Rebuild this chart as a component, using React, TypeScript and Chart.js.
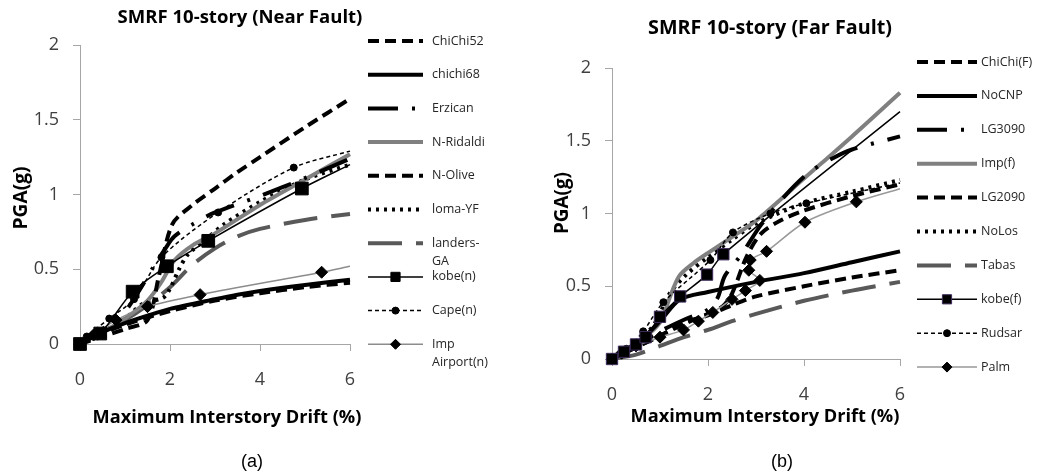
import React, { useEffect, useRef } from 'react';
import { Chart, registerables } from 'chart.js';

Chart.register(...registerables);

type Pt = [number, number];

// ---------- (a) Near Fault ----------
const chiChi52: Pt[] = [[0, 0], [0.5, 0.05], [1.0, 0.1], [1.5, 0.16], [1.75, 0.45], [2.05, 0.8], [2.5, 0.93], [3, 1.04], [3.5, 1.15], [4, 1.25], [5, 1.45], [6, 1.64]];
const chichi68: Pt[] = [[0, 0], [0.5, 0.08], [1, 0.14], [1.5, 0.19], [2, 0.235], [3, 0.3], [3.5, 0.33], [4, 0.355], [5, 0.395], [6, 0.43]];
const erzican: Pt[] = [[0, 0], [0.5, 0.1], [1, 0.22], [1.3, 0.35], [1.6, 0.5], [1.9, 0.64], [2.1, 0.72], [2.5, 0.8], [3, 0.88], [4, 0.99], [5, 1.11], [6, 1.24]];
const nRidaldi: Pt[] = [[0, 0], [0.5, 0.08], [1, 0.17], [1.5, 0.29], [1.8, 0.41], [2.1, 0.56], [2.5, 0.66], [3, 0.74], [4, 0.93], [5, 1.1], [6, 1.27]];
const nOlive: Pt[] = [[0, 0], [0.5, 0.07], [1, 0.13], [2, 0.22], [3, 0.29], [4, 0.34], [5, 0.38], [6, 0.41]];
const lomaYF: Pt[] = [[0, 0], [0.5, 0.08], [1, 0.17], [1.4, 0.27], [1.85, 0.31], [2.0, 0.37], [2.2, 0.5], [2.4, 0.6], [2.8, 0.7], [3.2, 0.8], [4, 0.95], [5, 1.1], [6, 1.2]];
const landersGA: Pt[] = [[0, 0], [0.5, 0.08], [1, 0.16], [1.5, 0.26], [2, 0.38], [2.5, 0.53], [3, 0.64], [3.5, 0.72], [4, 0.77], [5, 0.83], [6, 0.87]];
const kobeN: Pt[] = [[0, 0], [0.45, 0.07], [1.17, 0.35], [1.93, 0.52], [2.85, 0.69], [4.93, 1.04], [6, 1.2]];
const capeN: Pt[] = [[0, 0], [0.15, 0.05], [0.65, 0.17], [1.2, 0.3], [1.81, 0.58], [3.07, 0.88], [4.75, 1.18], [6, 1.29]];
const impAirportN: Pt[] = [[0, 0], [0.3, 0.06], [0.8, 0.16], [1.5, 0.25], [2.67, 0.33], [5.37, 0.48], [6, 0.52]];

const nearLabels = ['ChiChi52', 'chichi68', 'Erzican', 'N-Ridaldi', 'N-Olive', 'loma-YF', 'landers-GA', 'kobe(n)', 'Cape(n)', 'Imp Airport(n)'];
const nearSeries = [chiChi52, chichi68, erzican, nRidaldi, nOlive, lomaYF, landersGA, kobeN, capeN, impAirportN];

// ---------- (b) Far Fault ----------
const chiChiF: Pt[] = [[0, 0], [0.5, 0.08], [1, 0.16], [1.5, 0.25], [2, 0.3], [2.5, 0.37], [3, 0.43], [4, 0.5], [5, 0.56], [6, 0.61]];
const noCNP: Pt[] = [[0, 0], [0.5, 0.1], [1, 0.26], [1.42, 0.41], [2, 0.46], [3, 0.53], [4, 0.59], [5, 0.665], [6, 0.74]];
const lg3090: Pt[] = [[0, 0], [0.5, 0.09], [1, 0.19], [1.5, 0.27], [2, 0.34], [2.2, 0.42], [2.35, 0.57], [2.7, 0.72], [3.1, 0.92], [3.6, 1.12], [4.1, 1.28], [4.6, 1.38], [5, 1.44], [6, 1.53]];
const impF: Pt[] = [[0, 0], [0.5, 0.1], [1.0, 0.25], [1.2, 0.42], [1.4, 0.57], [1.7, 0.66], [2.05, 0.74], [2.6, 0.86], [3, 0.95], [4, 1.24], [5, 1.53], [6, 1.83]];
const lg2090: Pt[] = [[0, 0], [0.5, 0.08], [1, 0.16], [1.5, 0.24], [2, 0.31], [2.3, 0.36], [2.5, 0.45], [2.8, 0.7], [3.1, 0.86], [3.5, 0.95], [4, 1.02], [5, 1.12], [6, 1.2]];
const noLos: Pt[] = [[0, 0], [0.5, 0.1], [0.9, 0.25], [1.2, 0.45], [1.55, 0.58], [2, 0.7], [2.5, 0.82], [3, 0.93], [4, 1.07], [5, 1.15], [6, 1.23]];
const tabas: Pt[] = [[0, 0], [0.5, 0.03], [1, 0.09], [1.5, 0.15], [2, 0.2], [2.5, 0.26], [3, 0.31], [4, 0.4], [5, 0.47], [6, 0.53]];
const kobeF: Pt[] = [[0, 0], [0.25, 0.05], [0.5, 0.1], [0.7, 0.15], [1.0, 0.29], [1.42, 0.43], [1.98, 0.58], [2.32, 0.72], [6, 1.7]];
const rudsar: Pt[] = [[0, 0], [0.3, 0.07], [0.65, 0.19], [1.07, 0.39], [2.05, 0.68], [2.52, 0.87], [3.3, 1.0], [4.05, 1.07], [6, 1.21]];
const palm: Pt[] = [[0, 0], [0.2, 0.04], [0.5, 0.09], [1.0, 0.15], [1.49, 0.2], [1.8, 0.26], [2.1, 0.32], [2.5, 0.41], [2.78, 0.47], [3.08, 0.54], [2.85, 0.61], [2.88, 0.68], [3.22, 0.74], [4.02, 0.94], [5.09, 1.08], [6, 1.17]];

const farLabels = ['ChiChi(F)', 'NoCNP', 'LG3090', 'Imp(f)', 'LG2090', 'NoLos', 'Tabas', 'kobe(f)', 'Rudsar', 'Palm'];
const farSeries = [chiChiF, noCNP, lg3090, impF, lg2090, noLos, tabas, kobeF, rudsar, palm];

const xTicks = [0, 2, 4, 6];
const yTicks = [0, 0.5, 1, 1.5, 2];

// ---------- styles ----------
type Style = {
  color: string; width: number; dash: number[];
  marker?: 'rect' | 'circle' | 'rectRot'; r?: number; lr?: number;
  mfill?: string; mborder?: string; plain?: number;
};

const nearStyles: Style[] = [
  { color: '#000', width: 4, dash: [11, 6] },
  { color: '#000', width: 4, dash: [] },
  { color: '#000', width: 4, dash: [30, 14, 3, 14] },
  { color: '#808080', width: 4, dash: [] },
  { color: '#000', width: 4, dash: [11, 6] },
  { color: '#000', width: 4, dash: [3, 5] },
  { color: '#595959', width: 4, dash: [34, 14] },
  { color: '#000', width: 1.5, dash: [], marker: 'rect', r: 9, lr: 6.5, mfill: '#000', mborder: '#000', plain: 1 },
  { color: '#000', width: 1.5, dash: [4, 3], marker: 'circle', r: 3.5, lr: 3.5, mfill: '#000', mborder: '#000', plain: 1 },
  { color: '#8c8c8c', width: 1.5, dash: [], marker: 'rectRot', r: 6, lr: 5, mfill: '#000', mborder: '#000', plain: 1 },
];

const farStyles: Style[] = [
  { color: '#000', width: 4, dash: [11, 6] },
  { color: '#000', width: 4, dash: [] },
  { color: '#000', width: 4, dash: [30, 14, 3, 14] },
  { color: '#808080', width: 4, dash: [] },
  { color: '#000', width: 4, dash: [11, 6] },
  { color: '#000', width: 4, dash: [3, 5] },
  { color: '#595959', width: 4, dash: [34, 14] },
  { color: '#000', width: 1.5, dash: [], marker: 'rect', r: 8, lr: 6.5, mfill: '#000', mborder: '#3d2b5a', plain: 1 },
  { color: '#000', width: 1.5, dash: [4, 3], marker: 'circle', r: 3.5, lr: 3.5, mfill: '#000', mborder: '#000', plain: 1 },
  { color: '#999999', width: 1.5, dash: [], marker: 'rectRot', r: 6, lr: 5, mfill: '#000', mborder: '#000', plain: 1 },
];

const FONT = '"Open Sans", "Noto Sans", sans-serif';

type PanelDef = {
  left: number; width: number; height: number;
  area: { l: number; t: number; r: number; b: number };
  series: Pt[][]; labels: string[]; styles: Style[];
  title: string; titlePos: { cx: number; cy: number; w: number };
  yTitle: string; yTitlePos: { cx: number; cy: number; w: number };
  xTitle: string; xTitlePos: { cx: number; cy: number; w: number };
  caption: string; captionPos: { cx: number; cy: number };
  legend: { x0: number; x1: number; tx: number; y0: number; step: number; maxW: number };
};

const nearPanel: PanelDef = {
  left: 0, width: 515, height: 475,
  area: { l: 80, t: 45, r: 350, b: 344 },
  series: nearSeries, labels: nearLabels, styles: nearStyles,
  title: 'SMRF 10-story (Near Fault)', titlePos: { cx: 240, cy: 18, w: 245 },
  yTitle: 'PGA(g)', yTitlePos: { cx: 22, cy: 198, w: 63 },
  xTitle: 'Maximum Interstory Drift (%)', xTitlePos: { cx: 227, cy: 418, w: 269 },
  caption: '(a)', captionPos: { cx: 252, cy: 462 },
  legend: { x0: 368, x1: 423, tx: 432, y0: 41, step: 33.7, maxW: 62 },
};

const farPanel: PanelDef = {
  left: 515, width: 528, height: 475,
  area: { l: 612, t: 68, r: 900, b: 359 },
  series: farSeries, labels: farLabels, styles: farStyles,
  title: 'SMRF 10-story (Far Fault)', titlePos: { cx: 770, cy: 28, w: 244 },
  yTitle: 'PGA(g)', yTitlePos: { cx: 563, cy: 203, w: 62 },
  xTitle: 'Maximum Interstory Drift (%)', xTitlePos: { cx: 765, cy: 417, w: 269 },
  caption: '(b)', captionPos: { cx: 782, cy: 462 },
  legend: { x0: 917, x1: 977, tx: 981, y0: 62, step: 33.9, maxW: 100 },
};

function fitSize(ctx: CanvasRenderingContext2D, text: string, target: number, weight: string) {
  ctx.font = `${weight} 100px ${FONT}`;
  const w = ctx.measureText(text).width || 1;
  return (100 * target) / w;
}

function drawMarker(ctx: CanvasRenderingContext2D, kind: string, x: number, y: number, r: number, fill: string, border: string) {
  ctx.save();
  ctx.setLineDash([]);
  ctx.fillStyle = fill;
  ctx.strokeStyle = border;
  ctx.lineWidth = 1;
  ctx.beginPath();
  if (kind === 'rect') {
    const h = r * Math.SQRT1_2;
    ctx.rect(x - h, y - h, 2 * h, 2 * h);
  } else if (kind === 'circle') {
    ctx.arc(x, y, r, 0, Math.PI * 2);
  } else {
    ctx.moveTo(x, y - r); ctx.lineTo(x + r, y); ctx.lineTo(x, y + r); ctx.lineTo(x - r, y); ctx.closePath();
  }
  ctx.fill();
  ctx.stroke();
  ctx.restore();
}

function wrapText(ctx: CanvasRenderingContext2D, text: string, maxW: number): string[] {
  if (ctx.measureText(text).width <= maxW) return [text];
  const parts = text.match(/[^\s-]+-?\s*/g) || [text];
  const lines: string[] = [];
  let cur = '';
  for (const p of parts) {
    const cand = cur + p;
    if (cur && ctx.measureText(cand.trim()).width > maxW) {
      lines.push(cur.trim());
      cur = p;
    } else cur = cand;
  }
  if (cur) lines.push(cur.trim());
  return lines;
}

function makeDeco(p: PanelDef) {
  return {
    id: 'deco',
    afterDraw(chart: any) {
      const ctx: CanvasRenderingContext2D = chart.ctx;
      const ox = p.left;
      ctx.save();
      ctx.fillStyle = '#000';
      ctx.textAlign = 'center';
      ctx.textBaseline = 'middle';
      // title
      let s = fitSize(ctx, p.title, p.titlePos.w, 'bold');
      ctx.font = `bold ${s}px ${FONT}`;
      ctx.fillText(p.title, p.titlePos.cx - ox, p.titlePos.cy);
      // x title
      s = fitSize(ctx, p.xTitle, p.xTitlePos.w, 'bold');
      ctx.font = `bold ${s}px ${FONT}`;
      ctx.fillText(p.xTitle, p.xTitlePos.cx - ox, p.xTitlePos.cy);
      // y title
      s = fitSize(ctx, p.yTitle, p.yTitlePos.w, 'bold');
      ctx.save();
      ctx.translate(p.yTitlePos.cx - ox, p.yTitlePos.cy);
      ctx.rotate(-Math.PI / 2);
      ctx.font = `bold ${s}px ${FONT}`;
      ctx.fillText(p.yTitle, 0, 0);
      ctx.restore();
      // caption
      ctx.font = `18px "Liberation Sans", Arial, sans-serif`;
      ctx.fillText(p.caption, p.captionPos.cx - ox, p.captionPos.cy);
      // legend
      const L = p.legend;
      p.labels.forEach((label, i) => {
        const st = p.styles[i];
        const y = L.y0 + i * L.step;
        ctx.save();
        ctx.strokeStyle = st.color;
        ctx.lineWidth = st.width;
        ctx.setLineDash(st.dash);
        ctx.lineCap = 'butt';
        ctx.beginPath();
        ctx.moveTo(L.x0 - ox, y);
        ctx.lineTo(L.x1 - ox, y);
        ctx.stroke();
        ctx.restore();
        if (st.marker) {
          drawMarker(ctx, st.marker, (L.x0 + L.x1) / 2 - ox, y, st.lr || 4, st.mfill || '#000', st.mborder || '#000');
        }
        ctx.font = `12.5px ${FONT}`;
        ctx.fillStyle = '#262626';
        ctx.textAlign = 'left';
        const lines = wrapText(ctx, label, L.maxW);
        lines.forEach((ln, k) => ctx.fillText(ln, L.tx - ox, y + k * 18.5));
      });
      ctx.restore();
    },
  };
}

function buildConfig(p: PanelDef): any {
  const a = p.area;
  const yW = a.l - p.left;
  const xH = p.height - a.b;
  const datasets = p.styles.map((st, i) => {
    const pts = p.series[i];
    const n = pts.length;
    const plain = st.plain || 0;
    return {
      label: p.labels[i],
      data: pts.map(([x, y]) => ({ x, y })),
      borderColor: st.color,
      backgroundColor: st.mfill || st.color,
      borderWidth: st.width,
      borderDash: st.dash,
      borderCapStyle: 'butt',
      borderJoinStyle: 'round',
      tension: 0.3,
      fill: false,
      showLine: true,
      clip: false,
      order: st.marker ? 0 : 1,
      pointStyle: st.marker || 'circle',
      pointRadius: st.marker ? (c: any) => (c.dataIndex >= n - plain ? 0 : st.r) : 0,
      pointHoverRadius: 0,
      pointHitRadius: 0,
      pointBackgroundColor: st.mfill || st.color,
      pointBorderColor: st.mborder || st.color,
      pointBorderWidth: 1,
    };
  });
  const axisColor = '#a6a6a6';
  return {
    type: 'line',
    data: { datasets },
    options: {
      responsive: false,
      animation: false,
      devicePixelRatio: 1,
      parsing: true,
      layout: { padding: { left: 0, top: a.t, right: p.left + p.width - a.r, bottom: 0 } },
      plugins: { legend: { display: false }, tooltip: { enabled: false }, title: { display: false } },
      events: [],
      scales: {
        x: {
          type: 'linear', min: 0, max: 6,
          afterBuildTicks: (s: any) => { s.ticks = xTicks.map((v) => ({ value: v })); },
          afterFit: (s: any) => { s.height = xH; },
          ticks: { font: { family: FONT, size: 18 }, color: '#404040', padding: 18, maxRotation: 0, autoSkip: false, callback: (v: any) => String(v) },
          grid: { drawOnChartArea: false, drawTicks: true, tickLength: 7, color: axisColor, lineWidth: 1 },
          border: { display: true, color: axisColor, width: 1 },
        },
        y: {
          type: 'linear', min: 0, max: 2,
          afterBuildTicks: (s: any) => { s.ticks = yTicks.map((v) => ({ value: v })); },
          afterFit: (s: any) => { s.width = yW; },
          ticks: { font: { family: FONT, size: 18 }, color: '#404040', padding: 14, autoSkip: false, callback: (v: any) => String(v) },
          grid: { drawOnChartArea: false, drawTicks: true, tickLength: 7, color: axisColor, lineWidth: 1 },
          border: { display: true, color: axisColor, width: 1 },
        },
      },
    },
    plugins: [makeDeco(p)],
  };
}

function PanelChart({ panel }: { panel: PanelDef }) {
  const ref = useRef<HTMLCanvasElement>(null);
  useEffect(() => {
    if (!ref.current) return;
    const chart = new Chart(ref.current, buildConfig(panel));
    return () => chart.destroy();
  }, [panel]);
  return (
    <canvas
      ref={ref}
      width={panel.width}
      height={panel.height}
      style={{ position: 'absolute', left: panel.left, top: 0, width: panel.width, height: panel.height }}
    />
  );
}

export default function App() {
  return (
    <div style={{ position: 'absolute', left: 0, top: 0, width: 1043, height: 475, background: '#fff', overflow: 'hidden' }}>
      <PanelChart panel={nearPanel} />
      <PanelChart panel={farPanel} />
    </div>
  );
}
